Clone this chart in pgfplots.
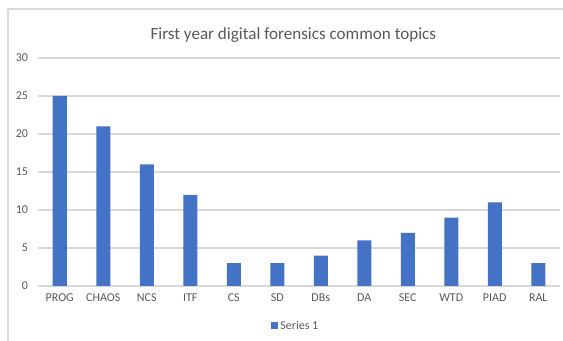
\documentclass[border=0pt]{standalone}
\usepackage{fontspec}
\setmainfont{Carlito}
\usepackage{pgfplots}
\pgfplotsset{compat=1.18}
\definecolor{barblue}{HTML}{4472C4}
\definecolor{txtgray}{HTML}{595959}
\definecolor{gridgray}{HTML}{D9D9D9}
\definecolor{framegray}{HTML}{D9D9D9}
\begin{document}
\begin{tikzpicture}
\path[use as bounding box] (0,0) rectangle (422.25pt,-255.75pt);
\draw[framegray, line width=0.8pt] (6pt,-6.75pt) -- (422.25pt,-6.75pt);
\draw[framegray, line width=0.8pt] (6pt,-6.75pt) -- (6pt,-255.75pt);
\node[txtgray, font=\fontsize{12.8}{14}\selectfont] at (220pt,-26.25pt) {First year digital forensics common topics};
\begin{axis}[
  at={(28.5pt,-214.5pt)}, anchor=south west,
  scale only axis, width=391.5pt, height=171pt,
  xmin=-0.5, xmax=11.5, ymin=0, ymax=30,
  ytick={0,5,...,30},
  xtick={0,...,11},
  xticklabels={PROG,CHAOS,NCS,ITF,CS,SD,DBs,DA,SEC,WTD,PIAD,RAL},
  axis x line*=bottom, axis y line*=left,
  x axis line style={gridgray, line width=0.8pt, -},
  y axis line style={draw=none},
  ymajorgrids, grid style={gridgray, line width=0.8pt},
  major tick length=0pt,
  tick label style={txtgray, font=\fontsize{9}{10}\selectfont},
  yticklabel style={xshift=-4pt},
  xticklabel style={yshift=-2pt},
  /pgf/number format/assume math mode=true,
  ybar, bar width=10.5pt,
  legend style={at={(0.494,-0.175)}, anchor=center, draw=none, fill=none,
    font=\fontsize{9}{10}\selectfont, text=txtgray},
  legend image code/.code={\fill[barblue] (0pt,-2.6pt) rectangle (5.2pt,2.6pt);},
  clip=false,
]
\addplot[fill=barblue, draw=none] coordinates {
(0,25) (1,21) (2,16) (3,12) (4,3) (5,3) (6,4) (7,6) (8,7) (9,9) (10,11) (11,3)};
\addlegendentry{Series 1}
\end{axis}
\end{tikzpicture}
\end{document}
